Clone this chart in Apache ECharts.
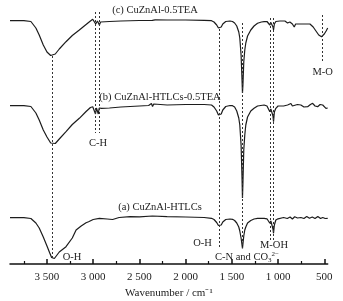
<!DOCTYPE html>
<html>
<head>
<meta charset="utf-8">
<script src="https://cdn.jsdelivr.net/npm/echarts@6/dist/echarts.min.js"></script>
<style>
  html, body { margin: 0; padding: 0; background: #fff; }
  #chart { width: 343px; height: 301px; }
</style>
</head>
<body>
<div id="chart"></div>
<script>
// wavenumber (cm-1) vs. offset band depth (a.u., bigger = lower on the plot)
var specC = [
  [3900,20.7],[3750,20.7],[3674,21.5],[3620,28],[3584,35],[3540,45],[3500,52],[3460,55.5],[3439,56],
  [3410,54],[3367,49],[3294,41.7],[3226,35.5],[3150,30],[3077,24.5],[3030,21],[3005,19.3],[2985,21],
  [2973,24],[2963,22],[2954,21],[2940,22],[2933,25],[2920,22],[2900,21.7],[2824,21.5],[2700,21],
  [2500,20.5],[2360,20.3],[2350,19],[2340,21.5],[2330,19.8],[2200,20],[2000,20],[1800,20.3],[1720,20.7],
  [1693,22],[1664,25],[1645,28],[1631,29.3],[1615,27],[1598,24],[1566,21.5],[1520,21],[1493,21.5],
  [1470,23],[1447,26],[1425,32],[1414,38],[1400,55],[1390,80],[1385,93],[1380,85],[1371,62],[1360,50],
  [1349,43],[1330,36],[1295,30],[1260,26],[1222,23.3],[1180,22],[1151,21.7],[1120,21.5],[1100,23],
  [1089,25],[1078,22.5],[1067,23],[1055,27],[1049,30],[1040,24],[1024,21.5],[980,21],[926,21],[897,23],
  [872,22],[845,24],[825,27],[810,24],[780,24],[730,24],[709,25],[680,24],[655,24],[620,27],[590,31],
  [560,35],[530,36.7],[517,36],[500,34],[480,31],[463,28]
];
var specB = [
  [3900,105.7],[3750,105.7],[3674,106.5],[3620,113],[3584,120],[3540,130],[3500,137],[3460,143],[3439,145],
  [3410,143.5],[3367,139],[3294,131.7],[3226,124.5],[3150,118.3],[3077,111.5],[3030,107.5],[3005,106.7],
  [2985,107.5],[2975,114],[2965,108],[2955,110],[2945,114],[2935,108],[2910,108.3],[2824,108],[2700,107],
  [2500,106],[2400,105.5],[2370,103.5],[2358,106.5],[2345,104],[2200,105],[2000,104.5],[1800,104.5],
  [1720,105],[1693,107],[1664,111],[1645,115],[1631,116.7],[1615,114],[1598,110],[1566,106.5],[1520,105.5],
  [1493,105.7],[1470,107],[1447,111],[1425,118],[1414,125],[1400,145],[1390,178],[1385,198],[1380,183],
  [1371,150],[1360,135],[1349,125],[1330,117],[1295,111],[1260,108.3],[1222,106],[1151,105],[1120,106],
  [1100,108],[1089,111.7],[1078,109],[1067,110],[1055,116],[1049,121.7],[1040,112],[1024,108.3],[1000,106],
  [980,106],[940,106],[920,104.5],[897,105],[880,103],[861,103.5],[845,106],[825,106.7],[790,104.5],
  [753,105],[720,107],[700,105],[680,106.7],[650,104.5],[626,103.3],[600,106],[572,106.7],[545,104.5],
  [517,105],[500,107],[482,108.3],[463,108]
];
var specA = [
  [3900,217.7],[3750,217.7],[3674,218.5],[3620,223],[3584,228],[3540,237],[3500,246],[3470,253],[3450,257.5],
  [3439,259],[3420,258.5],[3400,256.5],[3367,252],[3294,246.7],[3226,238],[3185,230],[3130,226],[3077,222.7],
  [3050,221.7],[3000,219.5],[2933,218.3],[2850,219],[2790,219.5],[2720,217.5],[2600,216.7],[2500,216.8],
  [2360,216],[2350,217.5],[2340,216.3],[2200,216.7],[2000,217],[1800,217.5],[1720,218.3],[1693,219.5],
  [1664,222.5],[1645,225.5],[1631,226.7],[1615,225],[1598,222],[1566,219.5],[1520,219],[1493,219.3],
  [1470,220.5],[1447,223],[1425,227],[1414,231],[1400,238],[1390,245],[1385,248.5],[1380,244],[1371,236],
  [1360,230],[1349,227],[1330,223],[1295,220.5],[1260,219],[1222,218.3],[1151,218.3],[1120,218.8],
  [1100,220.5],[1089,223.3],[1078,221],[1067,222],[1055,229],[1049,233.3],[1040,225],[1024,220],[1000,218.8],
  [980,219],[940,217.5],[900,218.5],[870,217],[845,219],[820,216.8],[790,218],[753,217.5],[720,218.5],
  [690,216.5],[660,218.3],[630,217],[600,218.5],[570,216.5],[540,218.5],[517,217.5],[490,218.5],[463,218.3]
];
var majorTicks = [3500, 3000, 2500, 2000, 1500, 1000, 500];
var minorTicks = [3750, 3250, 2750, 2250, 1750, 1250, 750];
// dotted guide lines: [wavenumber, from, to]
var guides = [
  [3439, 56, 258], [2973, 12, 133], [2933, 12, 133], [1631, 29, 247],
  [1385, 23, 248], [1089, 18, 240], [1049, 18, 240], [517, 15, 63]
];

var chart = echarts.init(document.getElementById('chart'));
var font = '"Liberation Serif", "Times New Roman", serif';
var lineCol = '#1c1c1c';

function spec(data, withGuides){
  var s = {
    type: 'line', data: data, showSymbol: false, smooth: false,
    lineStyle: { color: lineCol, width: 1.2 }, silent: true
  };
  if (withGuides) {
    s.markLine = {
      silent: true, symbol: 'none', animation: false,
      label: { show: false },
      lineStyle: { color: '#333', width: 1, type: [2, 2] },
      data: guides.map(function(g){ return [{ coord: [g[0], g[1]] }, { coord: [g[0], g[2]] }]; })
    };
  }
  return s;
}

function txt(text, x, y){
  return { type: 'text', x: x, y: y, z: 10,
    style: { text: text, font: '10.5px ' + font, fill: '#222', align: 'center', verticalAlign: 'middle' } };
}

chart.setOption({
  animation: false,
  grid: { left: 10, right: 15.3, top: 0, bottom: 37, outerBoundsMode: 'none' },
  xAxis: [{
    type: 'value', inverse: true, min: 463, max: 3900,
    name: 'Wavenumber / cm⁻¹', nameLocation: 'middle', nameGap: 22,
    nameTextStyle: { fontFamily: font, fontSize: 11, color: '#222' },
    axisLine: { onZero: false, lineStyle: { color: '#111', width: 1.5 } },
    axisTick: { inside: true, length: 5, customValues: majorTicks, lineStyle: { color: '#111', width: 1.5 } },
    axisLabel: { customValues: majorTicks, fontFamily: font, fontSize: 11, color: '#222', margin: 8,
      formatter: function(v){ return v >= 1000 ? Math.floor(v/1000) + ' ' + String(v % 1000).padStart(3, '0') : String(v); } },
    splitLine: { show: false }
  }, {
    type: 'value', inverse: true, min: 463, max: 3900, position: 'bottom',
    axisLine: { show: false, onZero: false },
    axisTick: { inside: true, length: 3, customValues: minorTicks, lineStyle: { color: '#111', width: 1.2 } },
    axisLabel: { show: false }, splitLine: { show: false }
  }],
  yAxis: { type: 'value', inverse: true, min: 0, max: 264, show: false },
  series: [spec(specC, true), spec(specB, false), spec(specA, false)],
  graphic: [
    txt('(c) CuZnAl-0.5TEA', 155, 10),
    txt('(b) CuZnAl-HTLCs-0.5TEA', 160, 97),
    txt('(a) CuZnAl-HTLCs', 160, 207),
    txt('C-H', 98, 143),
    txt('M-O', 322.7, 72),
    txt('O-H', 72, 257),
    txt('O-H', 202.5, 243),
    txt('M-OH', 274, 245),
    {
      type: 'text', x: 247, y: 257, z: 10,
      style: {
        text: 'C-N and CO{sub|3}{sup|2−}', font: '10.5px ' + font, fill: '#222',
        align: 'center', verticalAlign: 'middle',
        rich: {
          sub: { fontSize: 7, fontFamily: font, fill: '#222', padding: [6, 0, 0, 0] },
          sup: { fontSize: 7, fontFamily: font, fill: '#222', padding: [0, 0, 6, 0] }
        }
      }
    }
  ]
});
</script>
</body>
</html>
